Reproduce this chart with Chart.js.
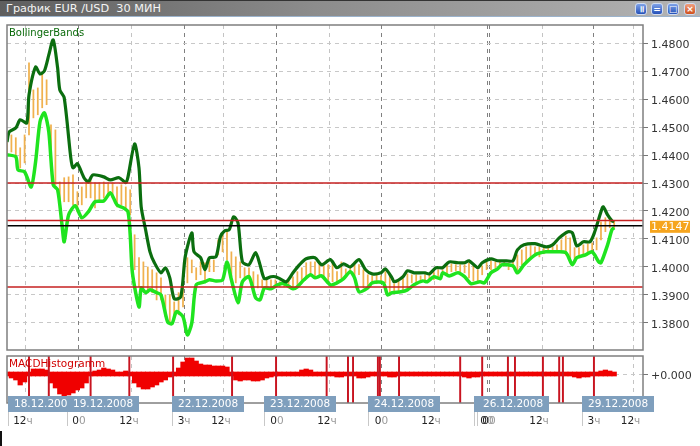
<!DOCTYPE html>
<html><head><meta charset="utf-8">
<script src="https://cdn.jsdelivr.net/npm/chart.js@4"></script>
<style>
html,body{margin:0;padding:0;background:#fff;overflow:hidden}
#wrap{position:relative;width:700px;height:446px;background:#fff;overflow:hidden}
#bar{position:absolute;left:0;top:0;width:700px;height:17px;background:linear-gradient(90deg,#5e5e5e,#8c8c8c 45%,#b4b4b4);border-top:1px solid #333;border-bottom:1px solid #9cb3cc;box-sizing:border-box;color:#f4f4f4;font:11.3px "DejaVu Sans",sans-serif;line-height:16px;padding-left:6px;white-space:pre}
.b{position:absolute;top:3px;width:12px;height:12px;border-radius:3px;background:linear-gradient(#7fa2e8,#2450b8);border:1px solid #cfdcf2;box-sizing:border-box;color:#fff;font:bold 9px/10px "DejaVu Sans",sans-serif;text-align:center}
canvas{position:absolute;left:0}
#corner{position:absolute;left:0;top:431px;width:2px;height:15px;background:#111}
</style></head><body>
<div id="wrap">
<canvas id="main" width="700" height="352" style="top:0;width:700px;height:352px"></canvas>
<canvas id="sub" width="700" height="94" style="top:352px;width:700px;height:94px"></canvas>
<div id="bar">График EUR /USD  30 МИН</div>
<div class="b" style="left:635px">॥</div>
<div class="b" style="left:651px">=</div>
<div class="b" style="left:667px">□</div>
<div class="b" style="left:684px;background:linear-gradient(#f0a080,#d0501c)">×</div>
<div id="corner"></div>
</div>
<script>
const priceTicks=[1.38,1.39,1.40,1.41,1.42,1.43,1.44,1.45,1.46,1.47,1.48];
const redLevels=[1.4300,1.4166,1.3928];
const lastPrice=1.4147;
const upperBars=[0,1,4,6,9,10,13,15,17,19,21,23,24,26,29,30,32,35,37,39,44,47,51,54,55,58,60,61,63,65,67,70,72,74,76,79,81,84,85,88,90,92,95,97,99,101,103,105,107,110,113,115,117,120,122,124,127,130,133,136,140,143,147,150,153,156,160,163,166,170,172,175,176,180,182,185,190,192,195,198,201,205,208,210,214,216,220,223,227,230,232,235,240,245,248,251,255,257,259,262,265,267,270,271,273,275,276];
const upperBand=[1.4447,1.4483,1.4497,1.4526,1.4515,1.4615,1.4715,1.4690,1.4701,1.4758,1.4812,1.4712,1.4633,1.4605,1.4390,1.4354,1.4369,1.4319,1.4304,1.4329,1.4322,1.4311,1.4319,1.4301,1.4322,1.4440,1.4354,1.4215,1.4133,1.4054,1.4015,1.3979,1.3997,1.3961,1.3886,1.3893,1.4036,1.4122,1.4054,1.4033,1.3990,1.4033,1.4036,1.4108,1.4129,1.4133,1.4179,1.4158,1.4018,1.4008,1.4051,1.4008,1.3958,1.3965,1.3965,1.3958,1.3947,1.3979,1.4008,1.4029,1.4033,1.4008,1.4026,1.3997,1.4011,1.4000,1.4026,1.3990,1.3975,1.3979,1.3993,1.3961,1.3947,1.3965,1.3986,1.3979,1.3979,1.3975,1.3997,1.3997,1.4018,1.4015,1.4015,1.4022,1.3997,1.4015,1.4029,1.4022,1.4022,1.4022,1.4061,1.4079,1.4083,1.4072,1.4079,1.4104,1.4126,1.4122,1.4075,1.4090,1.4090,1.4122,1.4197,1.4215,1.4186,1.4165,1.4161];
const lowerBars=[0,4,5,8,11,13,15,17,19,21,23,25,26,28,31,34,37,40,44,47,50,53,55,56,57,60,61,63,65,68,70,73,75,77,80,82,84,86,90,92,95,98,100,102,105,107,110,113,115,117,120,123,126,130,132,135,138,140,143,147,150,153,156,158,160,164,166,171,173,175,179,182,185,189,191,194,197,198,201,205,208,211,215,217,220,223,225,230,232,235,240,245,249,254,257,259,263,266,269,270,273,275,276];
const lowerBand=[1.4401,1.4394,1.4347,1.4340,1.4286,1.4376,1.4519,1.4551,1.4483,1.4294,1.4276,1.4151,1.4090,1.4186,1.4219,1.4176,1.4197,1.4233,1.4236,1.4265,1.4222,1.4211,1.4197,1.4115,1.3979,1.3857,1.3925,1.3908,1.3918,1.3908,1.3900,1.3804,1.3797,1.3840,1.3822,1.3757,1.3800,1.3936,1.3947,1.3954,1.3950,1.3954,1.4018,1.3954,1.3872,1.3947,1.3965,1.3890,1.3882,1.3925,1.3922,1.3936,1.3940,1.3922,1.3929,1.3954,1.3972,1.3961,1.3968,1.3936,1.3943,1.3958,1.3983,1.3961,1.3911,1.3925,1.3943,1.3943,1.3900,1.3908,1.3911,1.3918,1.3936,1.3950,1.3947,1.3965,1.3958,1.3979,1.3968,1.3979,1.3965,1.3940,1.3947,1.3943,1.3979,1.3993,1.4008,1.4004,1.3979,1.4008,1.4043,1.4054,1.4054,1.4051,1.4008,1.4033,1.4043,1.4054,1.4018,1.4015,1.4079,1.4133,1.4140];
const stripeHigh=[1.4455,1.4472,1.4462,1.4426,1.4472,1.4730,1.4633,1.4640,1.4690,1.4669,1.4508,1.4490,1.4304,1.4319,1.4322,1.4329,1.4269,1.4286,1.4301,1.4311,1.4301,1.4301,1.4304,1.4301,1.4301,1.4286,1.4294,1.4286,1.4276,1.4115,1.4033,1.4018,1.4000,1.3990,1.3979,1.3961,1.3900,1.3900,1.3875,1.3908,1.3929,1.4033,1.4025,1.3997,1.4018,1.4015,1.4033,1.4025,1.4097,1.4122,1.4126,1.4054,1.4036,1.4018,1.3997,1.3997,1.3983,1.3972,1.3954,1.3961,1.3954,1.3954,1.3947,1.3943,1.3954,1.3965,1.3983,1.3997,1.4015,1.4018,1.4018,1.4008,1.4004,1.4008,1.4018,1.3983,1.4018,1.3993,1.3997,1.4018,1.4008,1.3990,1.3972,1.3968,1.3972,1.3968,1.3983,1.3972,1.3940,1.3954,1.3958,1.3975,1.3972,1.3972,1.3968,1.3972,1.3972,1.3983,1.3990,1.3990,1.4011,1.4011,1.4008,1.4008,1.4008,1.4015,1.4004,1.3990,1.4004,1.4018,1.4022,1.4018,1.4018,1.4018,1.4015,1.4018,1.4043,1.4061,1.4072,1.4076,1.4072,1.4072,1.4069,1.4069,1.4072,1.4079,1.4097,1.4111,1.4104,1.4069,1.4069,1.4079,1.4083,1.4086,1.4104,1.4161,1.4176,1.4176,1.4165];
const stripeLow=[1.4401,1.4411,1.4390,1.4354,1.4372,1.4472,1.4533,1.4544,1.4569,1.4580,1.4419,1.4294,1.4211,1.4233,1.4233,1.4222,1.4197,1.4222,1.4247,1.4247,1.4211,1.4240,1.4247,1.4258,1.4247,1.4215,1.4222,1.4211,1.4186,1.3990,1.3929,1.3925,1.3908,1.3908,1.3882,1.3882,1.3822,1.3800,1.3818,1.3829,1.3857,1.3943,1.3979,1.3954,1.3972,1.3954,1.3983,1.3983,1.4043,1.4054,1.4025,1.3965,1.3943,1.3961,1.3961,1.3961,1.3918,1.3925,1.3925,1.3929,1.3925,1.3925,1.3929,1.3929,1.3925,1.3929,1.3933,1.3943,1.3958,1.3972,1.3965,1.3972,1.3958,1.3947,1.3947,1.3947,1.3961,1.3968,1.3979,1.3968,1.3972,1.3925,1.3925,1.3943,1.3940,1.3940,1.3943,1.3900,1.3911,1.3911,1.3918,1.3925,1.3943,1.3943,1.3950,1.3947,1.3954,1.3954,1.3961,1.3972,1.3972,1.3983,1.3986,1.3983,1.3979,1.3961,1.3950,1.3947,1.3972,1.3990,1.3990,1.3997,1.4004,1.4004,1.3990,1.3997,1.3990,1.4008,1.4018,1.4033,1.4043,1.4036,1.4047,1.4051,1.4054,1.4051,1.4054,1.4043,1.4025,1.4018,1.4040,1.4040,1.4047,1.4054,1.4061,1.4097,1.4126,1.4140,1.4140];
const macdHist=[-2,-4,-6,-11,-8,2,5,5,5,4,-9,-14,-20,-22,-21,-19,-16,-14,-9,-2,3,4,6,5,4,2,2,3,-1,-9,-13,-15,-15,-13,-11,-8,-6,-3,2,6,12,16,16,13,10,9,9,8,8,8,7,1,-6,-7,-6,-6,-7,-7,-6,-4,-3,-1,1,1,1,2,2,4,5,4,2,1,1,1,-2,-3,-3,-1,0,0,-4,-4,-3,-2,-1,-1,-2,-3,-3,-1,1,1,2,1,1,1,1,1,1,0,0,0,-1,-1,-3,-4,-3,-3,-1,0,1,1,1,1,0,0,1,1,2,1,1,0,0,-1,-1,-1,-1,0,0,-3,-4,-3,-3,-2,1,3,4,3,1].map(v=>v*0.0001);
const signalBars=[10,19,38,55.6,75.5,102.3,122.3,145.3,155,157.3,168.6,169.5,178.2,206,216,227.7,230.9,243.6,251,252.7,266.8];
const gridBars=[8.6,32.7,56.8,80.5,98.6,122.7,146.8,170.2,194.1,218.2,219.1,243.2,266.8,284.8];
const gridMajor=[false,true,false,true,false,true,false,true,false,true,true,false,true,false];
const hourLabels=['12ч','00','12ч','3ч','12ч','00','12ч','00','12ч','00','00','12ч','3ч','12ч'];
const dateLabels=['18.12.2008','19.12.2008','22.12.2008','23.12.2008','24.12.2008','25.12.2008','26.12.2008','29.12.2008'];
const dateBars=[0.5,27.3,75,116.8,164.1,212.3,213.6,261.4];

const FONT='"DejaVu Sans",sans-serif';
const XMAX=289.1;
const pairs=(xs,ys)=>xs.map((x,i)=>({x,y:ys[i]}));
const bandLine=(data,color,w)=>({type:'line',data,borderColor:color,borderWidth:w,pointRadius:0,tension:0.25,order:2});
const level=(v,color)=>({type:'line',data:[{x:0,y:v},{x:XMAX,y:v}],borderColor:color,borderWidth:1.5,pointRadius:0,order:1});
function xScale(){return {type:'linear',min:0,max:XMAX,offset:false,
  afterBuildTicks:s=>{s.ticks=gridBars.map(value=>({value}));},
  afterFit:s=>{s.height=0;},
  ticks:{display:false},border:{display:false,dash:[4,4]},
  grid:{offset:false,color:c=>gridMajor[c.index]?'#808080':'#c4c4c4',drawTicks:false}};}
const yFit=s=>{s.width=57;s.paddingTop=0;s.paddingBottom=0;};
const frame={id:'frame',afterDatasetsDraw(ch){const a=ch.chartArea,c=ch.ctx;c.save();c.strokeStyle='#7f7f7f';c.lineWidth=1.5;c.strokeRect(a.left,a.top,a.right-a.left,a.bottom-a.top);c.restore();}};
const mainText={id:'mainText',afterDraw(ch){const c=ch.ctx,y=ch.scales.y.getPixelForValue(lastPrice);c.save();
  c.fillStyle='#f6a51e';c.fillRect(650,y-5,40,12);c.fillStyle='#fff';c.font='11px '+FONT;c.textBaseline='middle';c.fillText(String(lastPrice),651,y+1.5);
  c.fillStyle='#0a6a0a';c.font='10px '+FONT;c.textBaseline='alphabetic';c.fillText('BollingerBands',9,36);c.restore();}};
const subText={id:'subText',afterDraw(ch){const c=ch.ctx,xs=ch.scales.x;c.save();
  c.fillStyle='#d00000';c.font='10.5px '+FONT;c.textBaseline='alphabetic';c.fillText('MACDHistogramm',9,15);
  dateBars.forEach((b,i)=>{const x=Math.round(xs.getPixelForValue(b));
    c.strokeStyle='#c8c8c8';c.lineWidth=1;c.beginPath();c.moveTo(x+0.5,60);c.lineTo(x+0.5,74);c.stroke();
    c.fillStyle='#7f9fbd';c.fillRect(x,44,72,16);
    c.fillStyle='#ffffff';c.font='10.5px '+FONT;c.textBaseline='middle';c.fillText(dateLabels[i],x+6,52.5);});
  gridBars.forEach((b,i)=>{const t=hourLabels[i],x=xs.getPixelForValue(b),d=t.slice(0,-1),l=t.slice(-1);
    c.font='10.5px '+FONT;const wd=c.measureText(d).width,wl=c.measureText(l).width,sx=x-(wd+wl)/2-(t.length>2?3:0);
    c.textBaseline='middle';c.fillStyle='#222';c.fillText(d,sx,69);c.fillStyle='#999';c.fillText(l,sx+wd,69);});
  c.restore();}};
new Chart(document.getElementById('main'),{
  data:{datasets:[
    level(redLevels[0],'#c62020'),level(redLevels[1],'#c62020'),level(redLevels[2],'#c62020'),level(lastPrice,'#000000'),
    bandLine(pairs(upperBars,upperBand),'#0b6e0f',3.2),
    bandLine(pairs(lowerBars,lowerBand),'#1fe41f',3.5),
    {type:'bar',data:stripeHigh.map((h,i)=>({x:i*2,y:[stripeLow[i],h]})),backgroundColor:'#f0b14e',barThickness:1.1,grouped:false,order:3}
  ]},
  options:{responsive:false,animation:false,devicePixelRatio:1,
    layout:{padding:{left:7,top:25,right:0,bottom:2}},
    plugins:{legend:{display:false},tooltip:{enabled:false}},
    scales:{x:xScale(),
      y:{position:'right',min:1.3703,max:1.4865,afterFit:yFit,
        afterBuildTicks:s=>{s.ticks=priceTicks.map(value=>({value}));},
        border:{display:false,dash:[4,4]},
        grid:{color:'#c8c8c8',tickLength:5,tickColor:'#777'},
        ticks:{padding:3,labelOffset:2,color:'#333',font:{family:FONT,size:11},callback:v=>Number(v).toFixed(4)}}}},
  plugins:[frame,mainText]});
new Chart(document.getElementById('sub'),{
  data:{datasets:[
    {type:'bar',data:signalBars.map(x=>({x,y:[-0.0029,0.0018]})),backgroundColor:'#c81420',barThickness:1.3,grouped:false,order:1},
    {type:'bar',data:macdHist.map((v,i)=>({x:i*2,y:[Math.min(v,-0.0002),Math.max(v,0.0002)]})),backgroundColor:'#f00000',barThickness:4.6,grouped:false,order:2}
  ]},
  options:{responsive:false,animation:false,devicePixelRatio:1,
    layout:{padding:{left:7,top:4,right:0,bottom:43}},
    plugins:{legend:{display:false},tooltip:{enabled:false}},
    scales:{x:xScale(),
      y:{position:'right',min:-0.0029,max:0.0018,afterFit:yFit,
        afterBuildTicks:s=>{s.ticks=[{value:0}];},
        border:{display:false,dash:[4,4]},
        grid:{color:'#c8c8c8',tickLength:5,tickColor:'#777'},
        ticks:{padding:3,labelOffset:2,color:'#333',font:{family:FONT,size:11},callback:()=>'+0.000'}}}},
  plugins:[frame,subText]});
</script>
</body></html>
